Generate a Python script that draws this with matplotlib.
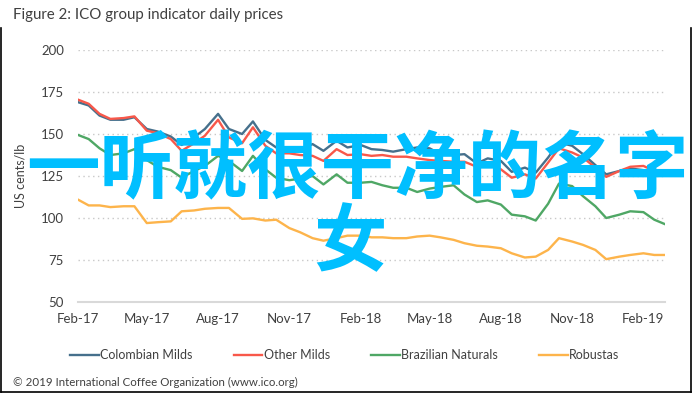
import matplotlib
matplotlib.use("Agg")
import matplotlib.pyplot as plt
import matplotlib.dates as mdates
import pandas as pd

plt.rcParams['font.family'] = ['Lato', 'Noto Sans CJK SC', 'DejaVu Sans']

# half-monthly readings, Feb 2017 - Feb 2019 (US cents/lb)
dates = list(pd.date_range("2017-02-01", "2019-02-15", freq="SMS")) + [pd.Timestamp("2019-02-28")]

colombian = [169, 167, 161, 158.5, 158.5, 160, 153, 151.5, 148.5, 143.5,
             148, 153, 162, 153, 150, 157.5, 146.5, 142, 142, 140.5,
             144, 140, 146, 142, 143.5, 141, 140.5, 139.5, 141, 142,
             141.5, 138, 137.5, 138, 132.5, 135.5, 134, 127.5, 130, 127,
             136, 145, 143, 138, 131.5, 126, 128, 129.5, 128.5, 127.5, 126.5]
other_milds = [170.5, 168, 162, 159, 159.5, 160.5, 152, 150.5, 147, 140,
               144.5, 149, 158.5, 148, 144.5, 154, 143, 138.5, 138.5, 137.5,
               137, 134, 141, 137.5, 138, 137, 137.5, 136.5, 136.5, 135.5,
               134.5, 134, 133.5, 133.5, 130.5, 131.5, 129, 124, 126, 123.5,
               133, 141.5, 139, 136, 130, 124.5, 128, 130.5, 131, 128, 126.5]
brazilian = [149.5, 147, 141.5, 137.5, 138.5, 141, 134.5, 130.5, 128.5, 124,
             128, 131, 137, 134, 128, 137, 129, 124, 122.5, 123.5,
             125, 120, 126, 121, 121, 121.5, 119.5, 118, 118, 115.5,
             117.5, 118.5, 119.5, 114, 109.5, 110.5, 108, 102, 101, 98.5,
             108.5, 120.5, 119, 113, 107, 100, 102, 104, 103.5, 99, 96.5]
robustas = [111, 107.5, 107.5, 106.5, 107, 107, 97, 97.5, 98, 104,
            104.5, 105.5, 106, 106, 99.5, 99.8, 98.5, 99, 94, 91.5,
            88, 86.5, 88, 89.5, 89.5, 88.5, 88.5, 88, 88, 89,
            89.5, 88.5, 87, 85, 83.5, 83, 82, 79, 76.5, 77,
            81, 88, 86, 84, 81, 75.5, 77, 78, 79, 78, 78]

series = ["Colombian Milds", "Other Milds", "Brazilian Naturals", "Robustas"]
colors = ["#46708c", "#f8584a", "#4fa765", "#fdb44b"]

fig = plt.figure(figsize=(6.95, 3.94), dpi=100)
ax = fig.add_axes([0.112, 0.2335, 0.845, 0.6395])

for name, vals, c in zip(series, [colombian, other_milds, brazilian, robustas], colors):
    ax.plot(dates, vals, color=c, lw=1.7, label=name)

ax.set_ylim(50, 200)
ax.set_yticks([50, 75, 100, 125, 150, 175, 200])
ax.set_xlim(pd.Timestamp("2017-02-01"), pd.Timestamp("2019-03-01"))
ax.xaxis.set_major_locator(mdates.MonthLocator(bymonth=[2, 5, 8, 11]))
ax.xaxis.set_major_formatter(mdates.DateFormatter("%b-%y"))
ax.grid(axis="y", color="#c8c8c8", linestyle=(0, (1, 2.5)), lw=1)
ax.set_axisbelow(True)
for s in ["top", "right", "left"]:
    ax.spines[s].set_visible(False)
ax.spines["bottom"].set_color("#d9d9d9")
ax.spines["bottom"].set_linewidth(1.5)
ax.tick_params(length=0, labelsize=9.5, labelcolor="#404040", pad=8)
ax.tick_params(axis="y", pad=10)
ax.set_ylabel("US cents/lb", fontsize=9, color="#404040", labelpad=10)

fig.legend(loc="center", bbox_to_anchor=(0.496, 0.099), ncol=4, frameon=False,
           fontsize=9, handlelength=2.3, handletextpad=0.1, columnspacing=3.3,
           labelcolor="#404040")

fig.text(0.019, 0.962, "Figure 2: ICO group indicator daily prices", fontsize=10.8,
         color="#404040", va="center")
fig.text(0.019, 0.03, "\u00a9 2019 International Coffee Organization (www.ico.org)",
         fontsize=8.3, color="#404040", va="center")

# frame around the figure
fig.add_artist(plt.Line2D([0.002, 0.002], [0.005, 0.93], color="black", lw=1.2))
fig.add_artist(plt.Line2D([0.994, 0.994], [0.005, 0.93], color="black", lw=1.2))
fig.add_artist(plt.Line2D([0.002, 0.994], [0.005, 0.005], color="black", lw=1.2))

# overlaid caption
fig.text(0.515, 0.565, "一听就很干净的名字", fontsize=53, color="#00bfff",
         ha="center", va="center", weight="bold",
         family=["Noto Sans CJK SC", "DejaVu Sans"])
fig.text(0.503, 0.38, "女", fontsize=53, color="#00bfff",
         ha="center", va="center", weight="bold",
         family=["Noto Sans CJK SC", "DejaVu Sans"])

fig.savefig("out.png", dpi=100)
